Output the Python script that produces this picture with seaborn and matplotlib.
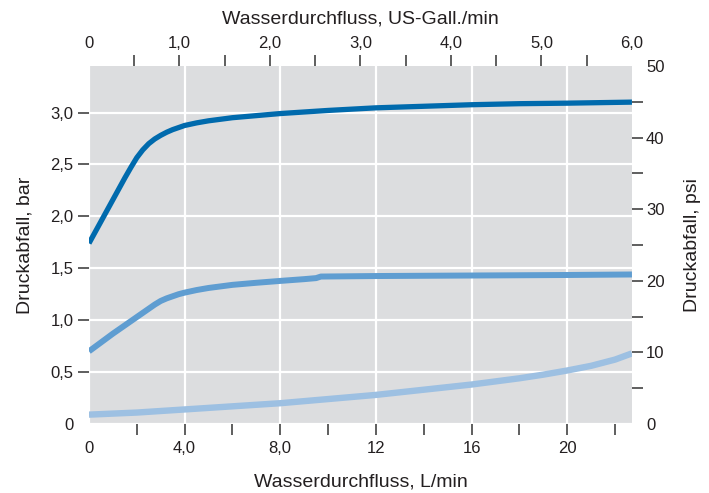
import pandas as pd
import seaborn as sns
import matplotlib.pyplot as plt

# data (flow in L/min, pressure drop in bar)
flow_top = [0, 0.5, 1, 1.5, 1.75, 2, 2.25, 2.5, 2.75, 3, 3.25, 3.5, 3.75, 4, 4.5, 5, 6, 7, 8,
            10, 12, 14, 16, 18, 20, 22.71]
drop_top = [1.74, 1.95, 2.16, 2.37, 2.47, 2.565, 2.64, 2.70, 2.745, 2.78, 2.81, 2.835, 2.855,
            2.875, 2.90, 2.92, 2.95, 2.97, 2.99, 3.02, 3.045, 3.06, 3.075, 3.085, 3.09, 3.10]

flow_mid = [0, 0.5, 1, 1.5, 2, 2.5, 2.75, 3, 3.25, 3.5, 3.75, 4, 4.5, 5, 5.5, 6, 7, 8, 9, 9.5,
            9.7, 12, 16, 20, 22.71]
drop_mid = [0.70, 0.785, 0.87, 0.95, 1.03, 1.11, 1.15, 1.185, 1.21, 1.23, 1.25, 1.265, 1.29,
            1.31, 1.325, 1.34, 1.36, 1.378, 1.395, 1.405, 1.42, 1.425, 1.43, 1.435, 1.44]

flow_low = [0, 2, 4, 6, 8, 10, 12, 14, 16, 17, 18, 19, 20, 21, 22, 22.71]
drop_low = [0.09, 0.11, 0.14, 0.17, 0.20, 0.24, 0.28, 0.33, 0.38, 0.41, 0.44, 0.475, 0.515,
            0.56, 0.62, 0.68]

lmin_ticks = [0, 4, 8, 12, 16, 20]
lmin_labels = ['0', '4,0', '8,0', '12', '16', '20']
bar_ticks = [0, 0.5, 1.0, 1.5, 2.0, 2.5, 3.0]
bar_labels = ['0', '0,5', '1,0', '1,5', '2,0', '2,5', '3,0']
gal_ticks = [0, 1, 2, 3, 4, 5, 6]
gal_labels = ['0', '1,0', '2,0', '3,0', '4,0', '5,0', '6,0']
psi_ticks = [0, 10, 20, 30, 40, 50]
psi_labels = ['0', '10', '20', '30', '40', '50']

L_PER_GAL = 3.785411784
PSI_PER_BAR = 14.5038

df = pd.concat([
    pd.DataFrame({'flow': flow_top, 'drop': drop_top, 'curve': 'a'}),
    pd.DataFrame({'flow': flow_mid, 'drop': drop_mid, 'curve': 'b'}),
    pd.DataFrame({'flow': flow_low, 'drop': drop_low, 'curve': 'c'}),
])

sns.set_style('white')
plt.rcParams['font.family'] = ['Liberation Sans', 'DejaVu Sans']
txt = '#231f20'
tick_col = '#333333'

fig = plt.figure(figsize=(7.09, 4.93), dpi=100)
ax = fig.add_axes([0.1255, 0.140, 0.7659, 0.726])
ax.set_facecolor('#dcdddf')
for s in ax.spines.values():
    s.set_visible(False)

ax.grid(True, color='white', linewidth=1.6)
ax.set_axisbelow(True)

palette = {'a': '#006aad', 'b': '#5f9dd1', 'c': '#9dc0e2'}
widths = {'a': 3.8, 'b': 4.3, 'c': 4.6}
for name, part in df.groupby('curve'):
    sns.lineplot(data=part, x='flow', y='drop', color=palette[name], ax=ax,
                 linewidth=widths[name], solid_capstyle='butt', sort=False)

ax.set_xlim(0, 6 * L_PER_GAL)
ax.set_ylim(0, 50 / PSI_PER_BAR)

# labels sit on major ticks (no marks), the marks are minor ticks
ax.set_xticks(lmin_ticks, lmin_labels)
ax.set_xticks([2, 4, 6, 8, 10, 12, 14, 16, 18, 20, 22], minor=True)
ax.set_yticks(bar_ticks, bar_labels)
ax.set_yticks([0.5, 1.0, 1.5, 2.0, 2.5, 3.0], minor=True)
ax.xaxis.remove_overlapping_locs = False
ax.yaxis.remove_overlapping_locs = False
ax.tick_params(which='major', length=0, labelsize=12, labelcolor=txt)
ax.tick_params(axis='x', which='major', pad=12.5)
ax.tick_params(axis='y', which='major', pad=11)
ax.tick_params(which='minor', direction='out', length=8, width=1.1, color=tick_col,
               bottom=True, left=True)
ax.set_xlabel('Wasserdurchfluss, L/min', fontsize=14, color=txt, labelpad=12)
ax.set_ylabel('Druckabfall, bar', fontsize=14, color=txt, labelpad=12)

top = ax.secondary_xaxis('top', functions=(lambda x: x / L_PER_GAL, lambda x: x * L_PER_GAL))
top.set_xticks(gal_ticks, gal_labels)
top.set_xticks([0.5, 1, 1.5, 2, 2.5, 3, 3.5, 4, 4.5, 5, 5.5], minor=True)
top.xaxis.remove_overlapping_locs = False
top.tick_params(which='major', length=0, pad=11, labelsize=12, labelcolor=txt)
top.tick_params(which='minor', direction='out', length=8, width=1.1, color=tick_col)
top.set_xlabel('Wasserdurchfluss, US-Gall./min', fontsize=14, color=txt, labelpad=9)

right = ax.secondary_yaxis('right', functions=(lambda y: y * PSI_PER_BAR, lambda y: y / PSI_PER_BAR))
right.set_yticks(psi_ticks, psi_labels)
right.set_yticks([5, 10, 15, 20, 25, 30, 35, 40, 45], minor=True)
right.yaxis.remove_overlapping_locs = False
right.tick_params(which='major', length=0, pad=10, labelsize=12, labelcolor=txt)
right.tick_params(which='minor', direction='out', length=8, width=1.1, color=tick_col)
right.set_ylabel('Druckabfall, psi', fontsize=14, color=txt, labelpad=14)

for sec in (top, right):
    for s in sec.spines.values():
        s.set_visible(False)

fig.savefig('out.png', dpi=100)
